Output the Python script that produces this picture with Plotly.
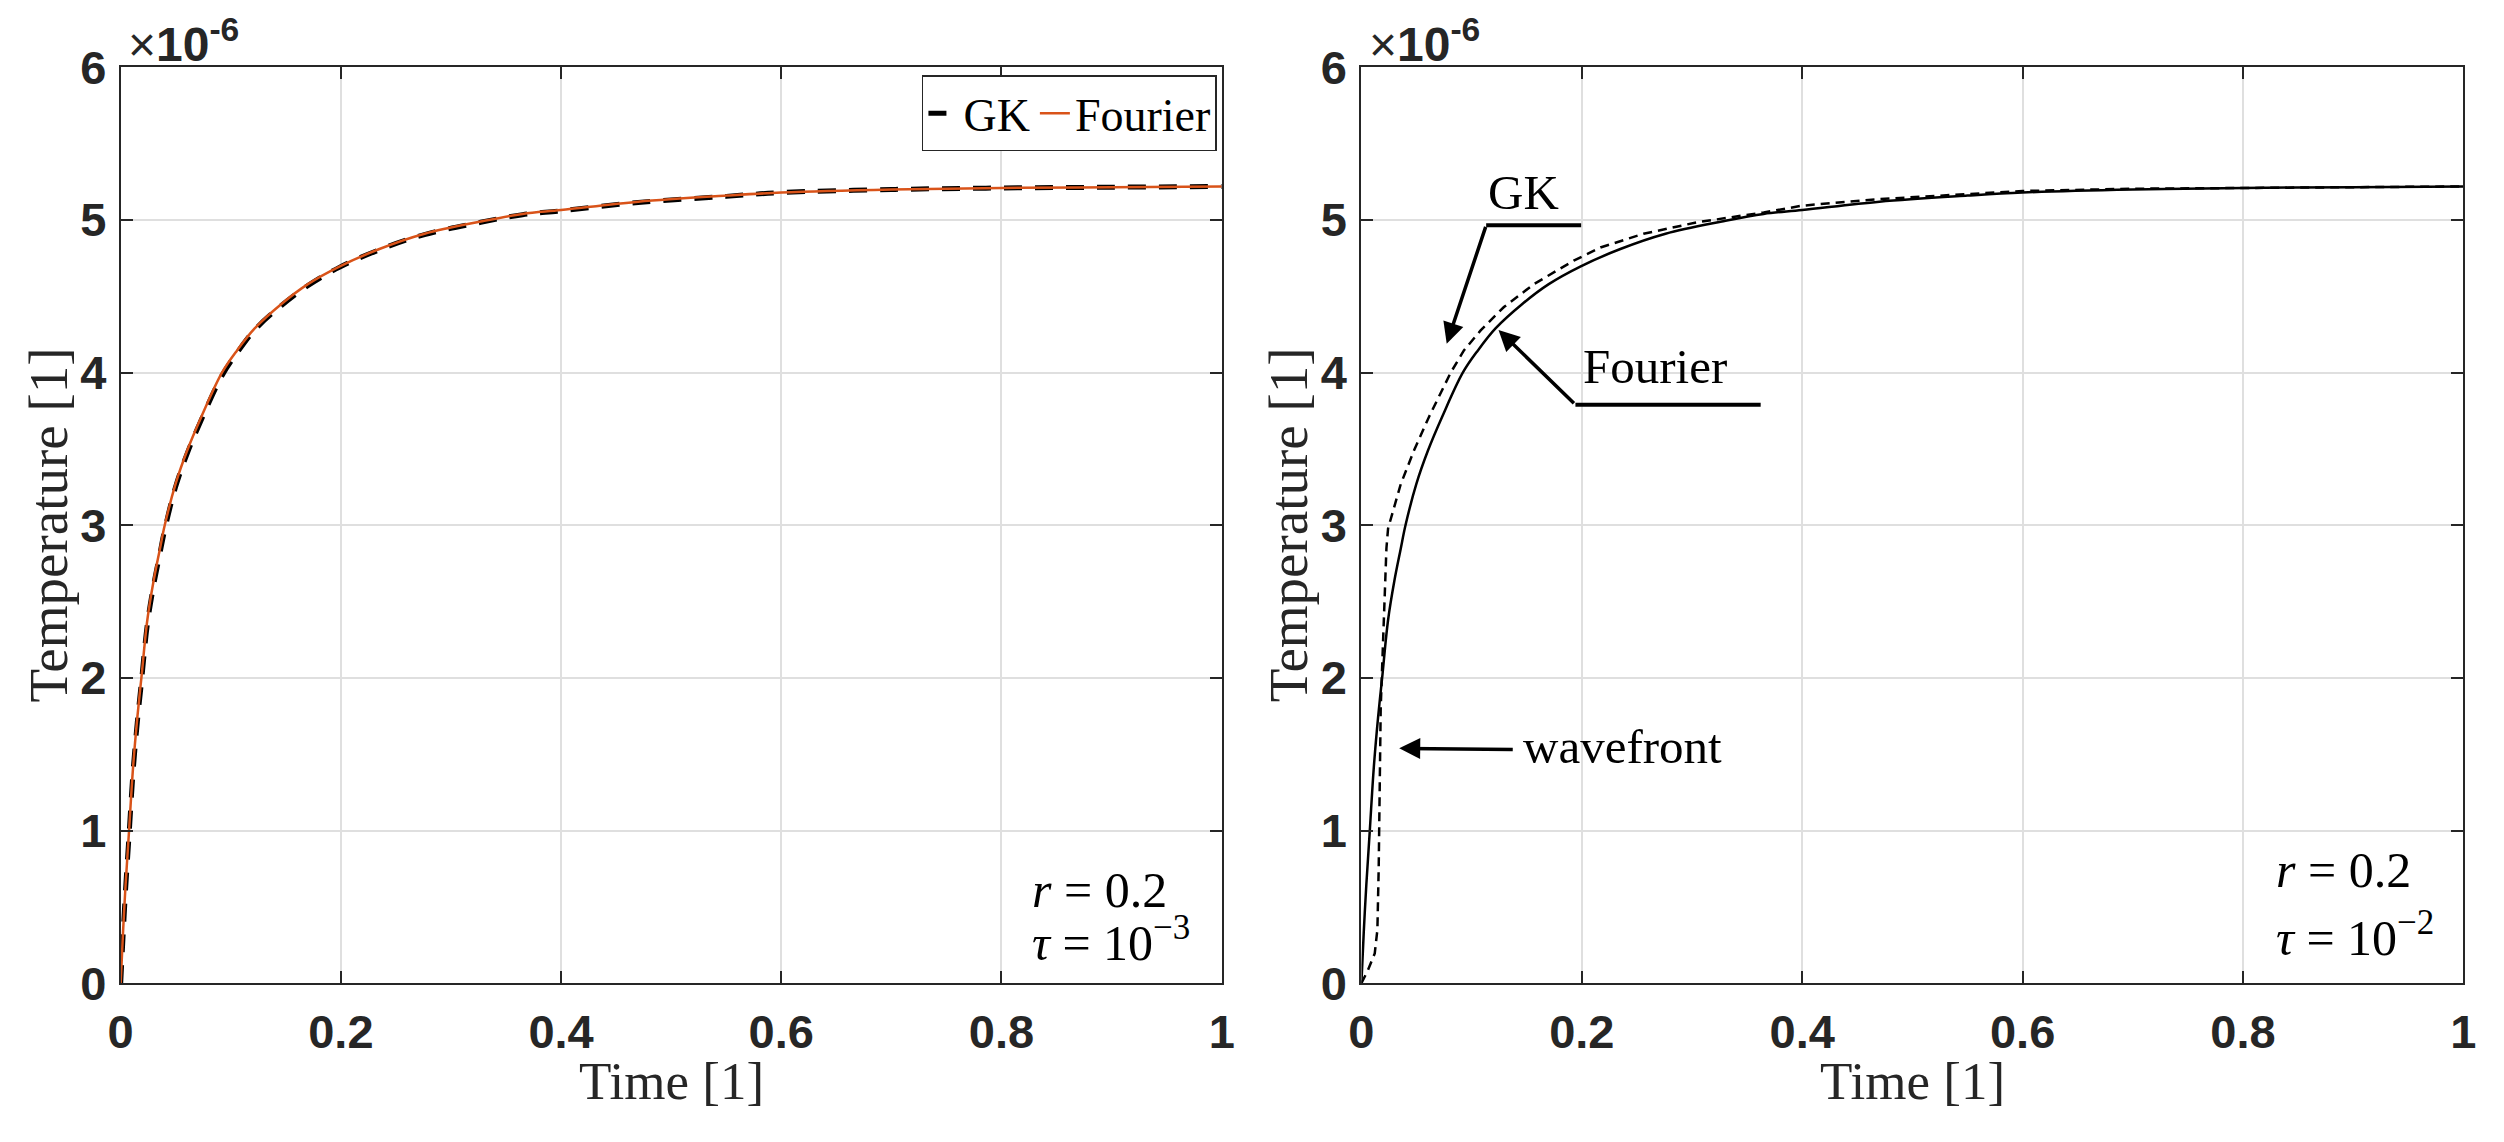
import plotly.graph_objects as go

# values, temperature in units of 1e-6
t_fourier = [0, 0.0021, 0.0045, 0.0076, 0.0112, 0.0151, 0.0188, 0.0242, 0.0300, 0.0355, 0.040,
             0.0498, 0.0604, 0.0732, 0.092, 0.1057, 0.1217, 0.146, 0.170, 0.1986, 0.235, 0.276,
             0.327, 0.365, 0.40, 0.47, 0.55, 0.6, 0.7, 0.8, 0.9, 1.0]
T_fourier = [0, 0.33, 0.65, 1.0, 1.41, 1.74, 2.0, 2.38, 2.64, 2.84, 3.0,
             3.27, 3.49, 3.71, 4.0, 4.146, 4.29, 4.45, 4.58, 4.695, 4.81, 4.91,
             4.99, 5.04, 5.065, 5.12, 5.16, 5.18, 5.20, 5.21, 5.215, 5.22]

# GK, tau = 1e-3 (left panel)
t_gk_a = t_fourier
T_gk_a = [0, 0.30, 0.62, 0.97, 1.38, 1.71, 1.97, 2.35, 2.61, 2.81, 2.97,
          3.25, 3.47, 3.69, 3.98, 4.13, 4.28, 4.44, 4.57, 4.69, 4.805, 4.905,
          4.985, 5.035, 5.06, 5.115, 5.155, 5.18, 5.20, 5.21, 5.215, 5.22]

# GK, tau = 1e-2 (right panel)
t_gk_b = [0, 0.006, 0.0121, 0.0145, 0.0157, 0.0166, 0.0175, 0.019, 0.0206, 0.0227, 0.0242, 0.027,
          0.0357, 0.0477, 0.0613, 0.081, 0.093, 0.1082, 0.1293, 0.1565, 0.1927, 0.2169, 0.256,
          0.3045, 0.365, 0.4, 0.47, 0.55, 0.6, 0.7, 0.8, 0.9, 1.0]
T_gk_b = [0, 0.087, 0.196, 0.35, 0.76, 1.41, 1.80, 2.11, 2.5, 2.85, 2.98, 3.05,
          3.27, 3.49, 3.71, 4.0, 4.146, 4.277, 4.43, 4.58, 4.734, 4.82, 4.91,
          4.985, 5.05, 5.094, 5.137, 5.17, 5.19, 5.205, 5.21, 5.215, 5.22]

x_ticks = [0, 0.2, 0.4, 0.6, 0.8, 1]
x_tick_text = ["0", "0.2", "0.4", "0.6", "0.8", "1"]
y_ticks = [0, 1, 2, 3, 4, 5, 6]

AX = "#262626"
SERIF = "Liberation Serif"
SANS = "Liberation Sans"
ORANGE = "#D95319"

fig = go.Figure()
fig.add_trace(go.Scatter(x=t_gk_a, y=T_gk_a, mode="lines", name="GK", line_shape="spline",
                         line=dict(color="black", width=5, dash="18px,13px"), xaxis="x", yaxis="y"))
fig.add_trace(go.Scatter(x=t_fourier, y=T_fourier, mode="lines", name="Fourier", line_shape="spline",
                         line=dict(color=ORANGE, width=2.5), xaxis="x", yaxis="y"))
fig.add_trace(go.Scatter(x=t_fourier, y=T_fourier, mode="lines", showlegend=False, line_shape="spline",
                         line=dict(color="black", width=2.5), xaxis="x2", yaxis="y2"))
fig.add_trace(go.Scatter(x=t_gk_b, y=T_gk_b, mode="lines", showlegend=False,
                         line=dict(color="black", width=2.5, dash="9px,6px"), xaxis="x2", yaxis="y2"))


def xax(domain, anchor):
    return dict(domain=domain, anchor=anchor, range=[0, 1], tickvals=x_ticks, ticktext=x_tick_text,
                showline=True, linecolor=AX, linewidth=2, mirror="ticks", ticks="inside",
                ticklen=12, tickwidth=2, tickcolor=AX, showgrid=True, gridcolor="#dfdfdf",
                gridwidth=1.5, zeroline=False, ticklabelstandoff=6, automargin=False,
                tickfont=dict(family=SANS, size=47, color=AX, weight="bold"))


def yax(anchor):
    return dict(domain=[0.146, 0.948], anchor=anchor, range=[0, 6], tickvals=y_ticks,
                showline=True, linecolor=AX, linewidth=2, mirror="ticks", ticks="inside",
                ticklen=12, tickwidth=2, tickcolor=AX, showgrid=True, gridcolor="#dfdfdf",
                gridwidth=1.5, zeroline=False, ticklabelstandoff=3, automargin=False,
                tickfont=dict(family=SANS, size=47, color=AX, weight="bold"))


annotations = []
for xr, yr, yc_title in [("x", "y", 0.016), ("x2", "y2", 0.5112)]:
    # exponent label
    annotations.append(dict(xref=xr + " domain", yref=yr + " domain", x=0.005, y=0.994,
                            xanchor="left", yanchor="bottom", showarrow=False,
                            text="×<b>10<sup>-6</sup></b>",
                            font=dict(family=SANS, size=48, color=AX)))
    # axis titles
    annotations.append(dict(xref=xr + " domain", yref="paper", x=0.5, y=0.0604,
                            xanchor="center", yanchor="middle", showarrow=False, text="Time [1]",
                            font=dict(family=SERIF, size=53, color=AX)))
    annotations.append(dict(xref="paper", yref=yr + " domain", x=yc_title, y=0.5, textangle=-90,
                            xanchor="center", yanchor="middle", showarrow=False,
                            text="Temperature [1]", font=dict(family=SERIF, size=55, color=AX)))

params = [("x", "y", 0.826, 0.413, 0.066, "−3"), ("x2", "y2", 0.828, 0.544, 0.103, "−2")]
for xr, yr, px, ry, ty, expo in params:
    annotations.append(dict(xref=xr, yref=yr, x=px, y=ry, xanchor="left", yanchor="bottom",
                            showarrow=False, text="<i>r</i> = 0.2",
                            font=dict(family=SERIF, size=50, color="black")))
    annotations.append(dict(xref=xr, yref=yr, x=px, y=ty, xanchor="left", yanchor="bottom",
                            showarrow=False, text="<i>τ</i> = 10<sup>%s</sup>" % expo,
                            font=dict(family=SERIF, size=50, color="black")))

# labels with arrows on the right panel
labels = [("GK", 0.147, 5.18, "center"), ("Fourier", 0.266, 4.04, "center"),
          ("wavefront", 0.145, 1.55, "left")]
for txt, lx, ly, anc in labels:
    annotations.append(dict(xref="x2", yref="y2", x=lx, y=ly, xanchor=anc, yanchor="middle",
                            showarrow=False, text=txt, font=dict(family=SERIF, size=49, color="black")))

arrows = [(0.0774, 4.19, 0.1132, 4.965), (0.1244, 4.28, 0.1942, 3.79), (0.0343, 1.539, 0.1387, 1.532)]
for hx, hy, tx, ty in arrows:
    annotations.append(dict(xref="x2", yref="y2", axref="x2", ayref="y2", x=hx, y=hy, ax=tx, ay=ty,
                            text="", showarrow=True, arrowhead=2, arrowsize=1.2, arrowwidth=3.5,
                            arrowcolor="black", standoff=0, startstandoff=0))

shapes = [
    dict(type="line", xref="x2", yref="y2", x0=0.1132, y0=4.965, x1=0.1994, y1=4.965,
         line=dict(color="black", width=4)),
    dict(type="line", xref="x2", yref="y2", x0=0.1942, y0=3.79, x1=0.3623, y1=3.79,
         line=dict(color="black", width=4)),
]

fig.update_layout(
    width=2504,
    height=1142,
    margin=dict(l=0, r=0, t=0, b=0, autoexpand=False),
    paper_bgcolor="white",
    plot_bgcolor="white",
    xaxis=xax([0.045, 0.4847], "y"),
    yaxis=yax("x"),
    xaxis2=xax([0.5405, 0.9806], "y2"),
    yaxis2=yax("x2"),
    annotations=annotations,
    shapes=shapes,
    legend=dict(orientation="h", x=0.4828, y=0.941, xanchor="right", yanchor="top",
                bgcolor="white", bordercolor=AX, borderwidth=1.5,
                font=dict(family=SERIF, size=46, color="black"), itemwidth=30),
)

fig.write_html("out.html")
